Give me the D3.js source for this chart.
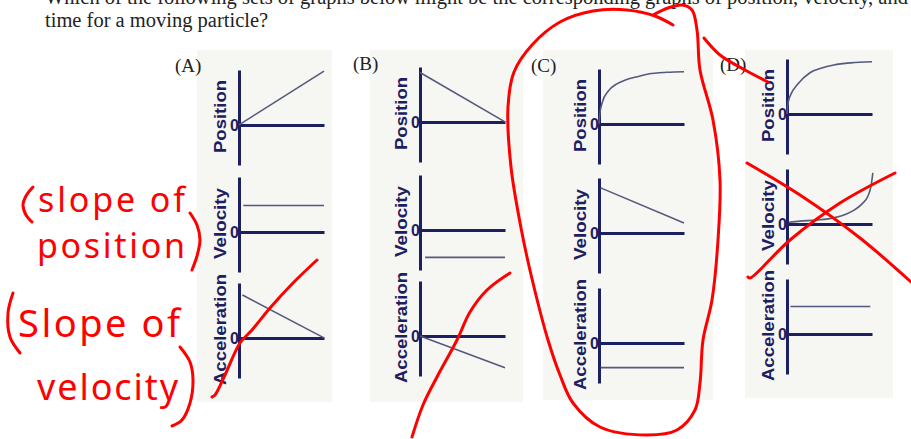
<!DOCTYPE html>
<html>
<head>
<meta charset="utf-8">
<script src="https://cdn.jsdelivr.net/npm/d3@7"></script>
<style>
  body { margin: 0; background: #fff; }
  svg { display: block; }
</style>
</head>
<body>
<div id="chart"></div>
<script>
// question text and labels
const questionLines = ["Which of the following sets of graphs below might be the corresponding graphs of position, velocity, and",
                       "time for a moving particle?"];
const options = ["(A)", "(B)", "(C)", "(D)"];
const quantities = ["Position", "Velocity", "Acceleration"];

// series as [time, value], time 0..1, value scaled so the top of an axis is 1
const posA = [[0, 0], [1, 0.98]];
const velA = [[0.05, 0.48], [1, 0.48]];
const accA = [[0.04, 0.78], [1, 0]];

const posB = [[0, 0.9], [1, 0]];
const velB = [[0.06, -0.5], [1, -0.5]];
const accB = [[0, 0], [1, -0.58]];

const posC = [[0, 0], [0.01, 0.18], [0.04, 0.4], [0.11, 0.6], [0.2, 0.72], [0.31, 0.8], [0.45, 0.86], [0.58, 0.91], [0.8, 0.94], [1, 0.95]];
const velC = [[0.02, 0.82], [1, 0.18]];
const accC = [[0.02, -0.45], [1, -0.45]];

const posD = [[0, 0], [0.01, 0.18], [0.05, 0.37], [0.12, 0.53], [0.27, 0.75], [0.4, 0.83], [0.55, 0.89], [0.75, 0.93], [1, 0.95]];
const velD = [[0.02, 0.03], [0.15, 0.05], [0.35, 0.07], [0.55, 0.11], [0.7, 0.18], [0.79, 0.25], [0.88, 0.36], [0.95, 0.5], [0.99, 0.7], [1.01, 0.93]];
const accD = [[0.04, 0.5], [0.98, 0.5]];

const series = [[posA, velA, accA], [posB, velB, accB], [posC, velC, accC], [posD, velD, accD]];
const curved = [[false, false, false], [false, false, false], [true, false, false], [true, true, false]];

// handwritten notes
const notes = ["slope of", "position", "Slope of", "velocity"];

// layout
const W = 911, H = 439;
const navy = "#1d2060", ink = "#55597c", red = "#ff0000";
const boxes = [[197, 50, 332, 402], [370, 50, 523, 402], [543, 50, 713, 400], [745, 50, 893, 398]];
const axisX = [239, 420, 599, 787];
const zeroY = [[125, 232, 338], [122, 230, 336], [124, 233, 343], [114, 224, 334]];
const titlePos = [[175, 72], [353, 70], [531, 72], [720, 71]];
const labelLen = [73, 71, 111];

const svg = d3.select("#chart").append("svg").attr("width", W).attr("height", H);

svg.selectAll("text.q").data(questionLines).join("text")
  .attr("x", 45).attr("y", (d, i) => 4 + i * 23)
  .style("font-family", "'Liberation Serif', 'Times New Roman', serif")
  .style("font-size", "20.5px").style("fill", "#222")
  .text(d => d);

boxes.forEach((b, p) => {
  svg.append("rect").attr("x", b[0]).attr("y", b[1])
    .attr("width", b[2] - b[0]).attr("height", b[3] - b[1])
    .attr("fill", "#f6f6f3");

  svg.append("text").attr("x", titlePos[p][0]).attr("y", titlePos[p][1])
    .style("font-family", "'Liberation Serif', serif").style("font-size", "19px")
    .style("fill", "#222").text(options[p]);

  quantities.forEach((q, r) => {
    const z = zeroY[p][r];
    const x = d3.scaleLinear().domain([0, 1]).range([axisX[p], axisX[p] + 85]);
    const y = d3.scaleLinear().domain([-0.73, 1]).range([z + 40, z - 55]);

    const g = svg.append("g");

    const ya = g.append("g").attr("transform", `translate(${axisX[p]},0)`)
      .call(d3.axisLeft(y).tickValues([0]).tickSize(0).tickPadding(0).tickSizeOuter(0).tickFormat(() => "0"));
    g.append("g").attr("transform", `translate(0,${y(0)})`)
      .call(d3.axisBottom(x).tickValues([]).tickSizeOuter(0));
    g.selectAll(".domain").attr("stroke", navy).attr("stroke-width", 3);
    ya.selectAll("text").style("font-family", "'Liberation Sans', Arial, sans-serif")
      .style("font-weight", "bold").style("font-size", "16px").style("fill", navy);

    const line = d3.line()
      .x(d => x(d[0])).y(d => y(d[1]))
      .curve(curved[p][r] ? d3.curveMonotoneX : d3.curveLinear);
    g.append("path").attr("d", line(series[p][r]))
      .attr("fill", "none").attr("stroke", ink).attr("stroke-width", 1.6);

    const mid = (y(1) + y(-0.73)) / 2 - 1;
    g.append("text")
      .attr("transform", `translate(${axisX[p] - 13},${mid}) rotate(-90)`)
      .attr("text-anchor", "middle")
      .attr("textLength", labelLen[r]).attr("lengthAdjust", "spacingAndGlyphs")
      .style("font-family", "'Liberation Sans', Arial, sans-serif")
      .style("font-weight", "bold").style("font-size", "17px").style("fill", navy)
      .text(q);
  });
});

// red pen strokes (pixel points)
const ringC = [[673, 25], [655, 16], [627, 10], [593, 11], [560, 22], [532, 45], [514, 72], [508, 107], [511, 167], [522, 233], [533, 283], [548, 340], [560, 375], [573, 403], [600, 427], [647, 435], [677, 430], [695, 410], [700, 383], [703, 340], [712, 300], [718, 240], [720, 180], [713, 120], [700, 70], [697, 30], [692, 10], [682, 5], [668, 8], [653, 15]];
const tailD = [[704, 38], [720, 55], [745, 70], [768, 82]];
const crossD1 = [[747, 163], [800, 195], [860, 238], [911, 282]];
const crossD2 = [[895, 173], [840, 203], [790, 240], [750, 278], [748, 277]];
const slashA = [[317, 260], [293, 283], [270, 308], [252, 330], [240, 343], [225, 375], [215, 395], [212, 397]];
const slashB = [[510, 273], [487, 290], [470, 312], [457, 340], [437, 377], [423, 405], [412, 437]];
const parens = [
  [[33, 187], [26, 196], [23, 205], [26, 215], [32, 222]],
  [[190, 213], [197, 225], [200, 240], [197, 256], [192, 270]],
  [[13, 293], [8, 313], [10, 337], [20, 353]],
  [[180, 347], [190, 362], [193, 380], [190, 403], [182, 420], [172, 426]]
];

const pen = d3.line().curve(d3.curveCatmullRom);
[ringC, tailD, crossD1, crossD2, slashA, slashB, ...parens].forEach(pts => {
  svg.append("path").attr("d", pen(pts))
    .attr("fill", "none").attr("stroke", red).attr("stroke-width", 3)
    .attr("stroke-linecap", "round").attr("stroke-linejoin", "round");
});

const notePos = [[38, 212, 147, 34], [37, 258, 148, 34], [18, 337, 162, 38], [37, 400, 141, 36]];
svg.selectAll("text.note").data(notes).join("text")
  .attr("x", (d, i) => notePos[i][0]).attr("y", (d, i) => notePos[i][1])
  .attr("textLength", (d, i) => notePos[i][2]).attr("lengthAdjust", "spacing")
  .style("font-family", "'Noto Sans', sans-serif")
  .style("font-size", (d, i) => notePos[i][3] + "px")
  .style("fill", red)
  .text(d => d);
</script>
</body>
</html>
